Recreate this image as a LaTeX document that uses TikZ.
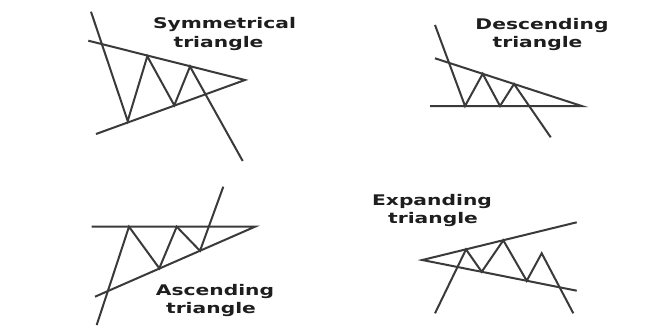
\documentclass[tikz,border=0pt]{standalone}
\usepackage{fontspec}
\newfontfamily\labfont{DejaVu Sans Bold}
\definecolor{lineg}{HTML}{3A3A3A}
\definecolor{textg}{HTML}{1E1E1E}
\begin{document}
\begin{tikzpicture}[x=0.75pt,y=-0.75pt,
  trend/.style={draw=lineg,line width=1.5pt,line join=miter},
  lab/.style={font=\labfont\fontsize{11}{13}\selectfont,text=textg,anchor=base,inner sep=0pt,xscale=1.38}]
\useasboundingbox[fill=white] (0,0) rectangle (648,328);
% ---------- Symmetrical triangle ----------
\coordinate (s1) at (88.3,40.7);
\coordinate (sA) at (245,80);
\coordinate (s2) at (96,134);
\draw[trend] (s1) -- (sA) -- (s2);
\coordinate (z1) at (91,11.7);
\coordinate (z2) at (127.7,121);
\coordinate (z3) at (147.3,56.3);
\coordinate (z4) at (174.3,105.3);
\coordinate (z5) at (190,66.5);
\coordinate (z6) at (242.7,161);
\draw[trend] (z1) -- (z2) -- (z3) -- (z4) -- (z5) -- (z6);
\node[lab] (symA) at (224.5,29) {Symmetrical};
\node[lab] (symB) at (218.5,47) {triangle};
% ---------- Descending triangle ----------
\coordinate (d1) at (435,58.3);
\coordinate (dA) at (581.7,106);
\coordinate (d2) at (430,106);
\draw[trend] (d1) -- (dA) -- (d2);
\coordinate (y1) at (435,25);
\coordinate (y2) at (465,106);
\coordinate (y3) at (482.7,73.8);
\coordinate (y4) at (500,106);
\coordinate (y5) at (514,84);
\coordinate (y6) at (550.7,137.3);
\draw[trend] (y1) -- (y2) -- (y3) -- (y4) -- (y5) -- (y6);
\node[lab] (desA) at (542,30) {Descending};
\node[lab] (desB) at (537.5,47) {triangle};
% ---------- Ascending triangle ----------
\coordinate (a1) at (91.7,226.7);
\coordinate (aA) at (255,226.7);
\coordinate (a2) at (95,296.7);
\draw[trend] (a1) -- (aA) -- (a2);
\coordinate (w1) at (96.7,325);
\coordinate (w2) at (129,226.7);
\coordinate (w3) at (159.3,268.3);
\coordinate (w4) at (176.7,226.7);
\coordinate (w5) at (200,250.8);
\coordinate (w6) at (223.3,186.7);
\draw[trend] (w1) -- (w2) -- (w3) -- (w4) -- (w5) -- (w6);
\node[lab] (ascA) at (215,295.7) {Ascending};
\node[lab] (ascB) at (211,313) {triangle};
% ---------- Expanding triangle ----------
\coordinate (e1) at (576.7,222.3);
\coordinate (eA) at (422.3,260);
\coordinate (e2) at (576.7,290.7);
\draw[trend] (e1) -- (eA) -- (e2);
\coordinate (x1) at (435,313.3);
\coordinate (x2) at (466,249.4);
\coordinate (x3) at (481.7,271.8);
\coordinate (x4) at (503.3,240.3);
\coordinate (x5) at (526.7,280.8);
\coordinate (x6) at (541.7,253.3);
\coordinate (x7) at (573.3,313.3);
\draw[trend] (x1) -- (x2) -- (x3) -- (x4) -- (x5) -- (x6) -- (x7);
\node[lab] (expA) at (432,205) {Expanding};
\node[lab] (expB) at (433,223) {triangle};
\end{tikzpicture}
\end{document}
